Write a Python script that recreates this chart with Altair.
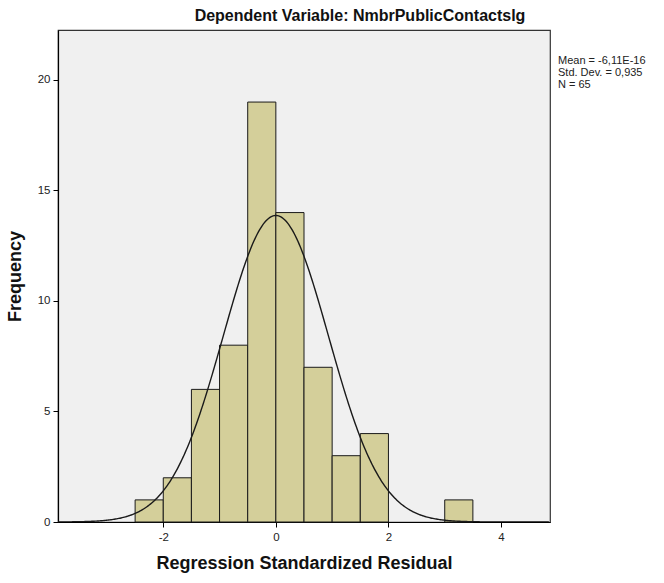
import altair as alt
import pandas as pd

# Histogram bins (Regression Standardized Residual), width 0.5
bin_start = [-2.5, -2.0, -1.5, -1.0, -0.5, 0.0, 0.5, 1.0, 1.5, 2.0, 2.5, 3.0]
bin_end = [-2.0, -1.5, -1.0, -0.5, 0.0, 0.5, 1.0, 1.5, 2.0, 2.5, 3.0, 3.5]
counts = [1, 2, 6, 8, 19, 14, 7, 3, 4, 0, 0, 1]

# Stated summary statistics
mean_val = -6.11e-16
std_val = 0.935
n_val = 65
bin_width = 0.5

x_ticks = [-2, 0, 2, 4]
y_ticks = [0, 5, 10, 15, 20]
x_domain = [-3.87, 4.87]
y_domain = [0, 22.26]

stats_lines = ["Mean = -6,11E-16", "Std. Dev. = 0,935", "N = 65"]

FONT = "Liberation Sans"
W, H = 492, 492

df = pd.DataFrame({"start": bin_start, "end": bin_end, "count": counts})
df = df[df["count"] > 0]

xscale = alt.Scale(domain=x_domain, nice=False, zero=False)
yscale = alt.Scale(domain=y_domain, nice=False)

xaxis = alt.Axis(values=x_ticks, labelExpr="toString(datum.value)", title="Regression Standardized Residual", grid=False,
                 tickColor="black", domainColor="black", tickSize=5, labelFontSize=11.5,
                 labelColor="#222", titleFontSize=18, titleFontWeight="bold", titleColor="#111",
                 titlePadding=12, labelPadding=4, labelFont=FONT, titleFont=FONT, domainWidth=1.2)
yaxis = alt.Axis(values=y_ticks, labelExpr="toString(datum.value)", title="Frequency", grid=False,
                 tickColor="black", domainColor="black", tickSize=5, labelFontSize=11.5,
                 labelColor="#222", titleFontSize=18, titleFontWeight="bold", titleColor="#111",
                 titlePadding=13, labelPadding=3, labelFont=FONT, titleFont=FONT, domainWidth=1.2)

bars = alt.Chart(df).mark_bar(color="#D4CF9A", stroke="#1a1a1a", strokeWidth=1).encode(
    x=alt.X("start:Q", scale=xscale, axis=xaxis),
    x2="end:Q",
    y=alt.Y("count:Q", scale=yscale, axis=yaxis),
    y2=alt.datum(0),
)

curve = alt.Chart(alt.sequence(-3.87, 4.87, 0.02, as_="x")).transform_calculate(
    y=f"{n_val}*{bin_width}/({std_val}*sqrt(2*PI))*exp(-0.5*pow((datum.x-({mean_val}))/{std_val},2))"
).mark_line(color="#1a1a1a", strokeWidth=1.4, clip=True).encode(
    x=alt.X("x:Q", scale=xscale),
    y=alt.Y("y:Q", scale=yscale),
)

stats = alt.Chart(pd.DataFrame({"t": [stats_lines]})).mark_text(
    align="left", baseline="top", font=FONT, fontSize=11, color="#222", lineHeight=12
).encode(x=alt.value(W + 8), y=alt.value(25), text="t")

chart = (bars + curve + stats).properties(
    width=W, height=H,
    title=alt.TitleParams("Dependent Variable: NmbrPublicContactslg", font=FONT, fontSize=16,
                          fontWeight="bold", color="#111", anchor="middle", dx=56, offset=6),
    background="white",
    padding={"left": 58, "top": 30, "right": 114, "bottom": 61},
    autosize=alt.AutoSizeParams(type="none"),
).configure_view(fill="#F0F0F0", stroke="#333", strokeWidth=1.2)

chart.save("out.html", embed_options={"renderer": "svg", "actions": False})
